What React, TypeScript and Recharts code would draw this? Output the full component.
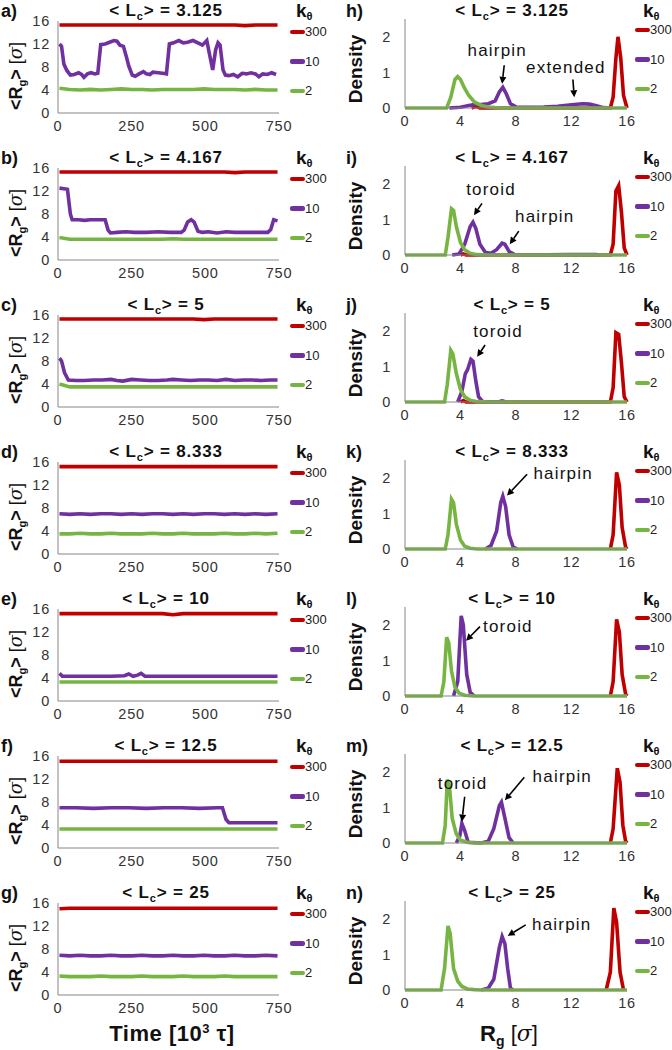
import React from 'react';
import { LineChart, Line, XAxis, YAxis, ReferenceLine, Legend } from 'recharts';

const FONT = '"Liberation Sans", Arial, sans-serif';
const RED = '#C00000';
const PURPLE = '#7030A0';
const GREEN = '#77B543';
const AXIS = '#868686';
const ROW = 147;

type Pair = [number, number];

const kTheta = ['300', '10', '2'];
const lcValues = ['3.125', '4.167', '5', '8.333', '10', '12.5', '25'];
const timeLetters = ['a)', 'b)', 'c)', 'd)', 'e)', 'f)', 'g)'];
const densLetters = ['h)', 'i)', 'j)', 'k)', 'l)', 'm)', 'n)'];
const timeTicks = [0, 250, 500, 750];
const rgTicks = [0, 4, 8, 12, 16];
const densTicks = [0, 1, 2];
const rgAxisTicks = [0, 4, 8, 12, 16];

// time samples used for the flat traces
const tGrid = [5, 40, 75, 110, 145, 180, 215, 250, 285, 320, 355, 390, 425, 460, 495, 530, 565, 600, 635, 670, 705, 745];

// ---- <Rg> vs time ----
const aRed = [15.3, 15.3, 15.3, 15.3, 15.3, 15.3, 15.3, 15.3, 15.3, 15.3, 15.3, 15.3, 15.3, 15.3, 15.3, 15.3, 15.3, 15.3, 15.2, 15.3, 15.3, 15.3];
const aGreen = [4.3, 4.1, 4.0, 4.1, 4.0, 4.1, 4.2, 4.1, 4.1, 4.0, 4.1, 4.1, 4.1, 4.1, 4.2, 4.1, 4.1, 4.1, 4.0, 4.1, 4.0, 4.0];
const aPurple: Pair[] = [[5, 12], [12, 11.6], [20, 8.5], [30, 7.4], [42, 6.6], [55, 6.7], [70, 7.0], [80, 6.7], [88, 6.2], [100, 6.8], [112, 7.0], [125, 6.8], [135, 6.9], [145, 11.9], [160, 12.0], [175, 12.3], [190, 12.6], [200, 12.5], [210, 11.8], [222, 11.6], [232, 9.8], [240, 8.2], [252, 6.6], [262, 6.4], [275, 6.8], [290, 7.2], [300, 6.8], [312, 6.7], [322, 7.1], [340, 7.0], [355, 6.9], [368, 6.8], [378, 12.0], [392, 12.2], [410, 12.6], [425, 12.2], [440, 12.3], [458, 12.6], [475, 12.2], [490, 11.8], [505, 12.6], [515, 10.0], [525, 7.5], [535, 11.0], [543, 12.2], [550, 11.8], [560, 7.5], [568, 6.6], [580, 6.5], [595, 6.7], [610, 6.3], [625, 6.9], [640, 6.8], [655, 7.0], [670, 6.8], [682, 6.3], [695, 6.8], [710, 6.7], [725, 7.0], [740, 6.7]];

const bRed = [15.3, 15.3, 15.3, 15.3, 15.3, 15.3, 15.3, 15.3, 15.3, 15.3, 15.3, 15.3, 15.3, 15.3, 15.3, 15.3, 15.3, 15.2, 15.3, 15.3, 15.3, 15.3];
const bGreen = [3.9, 3.6, 3.6, 3.6, 3.6, 3.6, 3.6, 3.6, 3.6, 3.6, 3.6, 3.7, 3.6, 3.6, 3.6, 3.6, 3.6, 3.6, 3.6, 3.6, 3.6, 3.6];
const bPurple: Pair[] = [[5, 12.5], [20, 12.4], [32, 12.3], [42, 8.0], [48, 7.0], [70, 7.0], [90, 6.9], [110, 7.0], [130, 7.0], [160, 7.0], [170, 5.2], [178, 4.7], [200, 4.8], [230, 4.9], [260, 4.8], [300, 4.8], [340, 4.9], [380, 4.8], [418, 4.8], [428, 5.2], [440, 6.6], [452, 7.0], [462, 6.6], [475, 5.0], [490, 4.8], [510, 4.9], [540, 4.7], [570, 4.9], [600, 4.8], [640, 4.8], [680, 4.8], [712, 4.8], [722, 5.3], [732, 7.0], [745, 6.8]];

const cRed = [15.3, 15.3, 15.3, 15.3, 15.3, 15.3, 15.3, 15.3, 15.3, 15.3, 15.3, 15.3, 15.3, 15.3, 15.2, 15.3, 15.3, 15.3, 15.3, 15.3, 15.3, 15.3];
const cGreen = [4.0, 3.5, 3.5, 3.5, 3.5, 3.5, 3.5, 3.5, 3.5, 3.5, 3.5, 3.5, 3.5, 3.5, 3.5, 3.5, 3.5, 3.5, 3.5, 3.5, 3.5, 3.5];
const cPurple: Pair[] = [[5, 8.5], [12, 8.0], [22, 6.0], [35, 4.7], [60, 4.6], [90, 4.6], [120, 4.7], [150, 4.7], [180, 4.8], [200, 4.6], [220, 4.5], [250, 4.8], [280, 4.7], [310, 4.6], [340, 4.6], [370, 4.7], [390, 4.8], [420, 4.7], [450, 4.6], [480, 4.7], [510, 4.7], [540, 4.6], [570, 4.8], [600, 4.6], [630, 4.7], [660, 4.7], [690, 4.6], [720, 4.7], [745, 4.7]];

const dRed = [15.2, 15.2, 15.2, 15.2, 15.2, 15.2, 15.2, 15.2, 15.2, 15.2, 15.2, 15.2, 15.2, 15.2, 15.2, 15.2, 15.2, 15.2, 15.2, 15.2, 15.2, 15.2];
const dPurple = [7.0, 6.9, 7.0, 6.9, 7.0, 7.0, 6.9, 7.0, 6.9, 7.0, 7.0, 6.9, 7.0, 6.9, 7.0, 7.0, 6.9, 7.0, 6.9, 7.0, 6.9, 7.0];
const dGreen = [3.5, 3.5, 3.6, 3.5, 3.5, 3.6, 3.5, 3.5, 3.5, 3.6, 3.5, 3.5, 3.6, 3.5, 3.5, 3.5, 3.6, 3.5, 3.5, 3.6, 3.5, 3.6];

const eRed = [15.2, 15.2, 15.2, 15.2, 15.2, 15.2, 15.2, 15.2, 15.2, 15.2, 15.2, 15.0, 15.2, 15.2, 15.2, 15.2, 15.2, 15.2, 15.2, 15.2, 15.2, 15.2];
const eGreen = [3.3, 3.3, 3.3, 3.3, 3.3, 3.3, 3.3, 3.3, 3.3, 3.3, 3.3, 3.3, 3.3, 3.3, 3.3, 3.3, 3.3, 3.3, 3.3, 3.3, 3.3, 3.3];
const ePurple: Pair[] = [[5, 4.8], [15, 4.3], [60, 4.3], [120, 4.3], [180, 4.3], [225, 4.4], [240, 4.7], [255, 4.3], [270, 4.5], [282, 4.8], [295, 4.3], [350, 4.3], [420, 4.3], [480, 4.3], [540, 4.3], [600, 4.3], [660, 4.3], [700, 4.3], [745, 4.3]];

const fRed = [15.1, 15.1, 15.1, 15.1, 15.1, 15.1, 15.1, 15.1, 15.1, 15.1, 15.1, 15.1, 15.1, 15.1, 15.1, 15.1, 15.1, 15.1, 15.1, 15.1, 15.1, 15.1];
const fGreen = [3.3, 3.3, 3.3, 3.3, 3.3, 3.3, 3.3, 3.3, 3.3, 3.3, 3.3, 3.3, 3.3, 3.3, 3.3, 3.3, 3.3, 3.3, 3.3, 3.3, 3.3, 3.3];
const fPurple: Pair[] = [[5, 7.0], [60, 7.0], [120, 6.9], [180, 7.0], [240, 7.0], [300, 6.9], [360, 7.0], [420, 7.0], [480, 6.9], [540, 7.0], [558, 7.0], [570, 5.0], [580, 4.4], [620, 4.4], [680, 4.4], [745, 4.4]];

const gRed = [15.0, 15.1, 15.1, 15.1, 15.1, 15.1, 15.1, 15.1, 15.1, 15.1, 15.1, 15.1, 15.1, 15.1, 15.1, 15.1, 15.1, 15.1, 15.1, 15.1, 15.1, 15.1];
const gPurple = [6.9, 6.8, 6.9, 6.8, 6.8, 6.9, 6.8, 6.8, 6.9, 6.8, 6.8, 6.9, 6.8, 6.8, 6.9, 6.8, 6.8, 6.9, 6.8, 6.8, 6.9, 6.8];
const gGreen = [3.3, 3.2, 3.2, 3.2, 3.3, 3.2, 3.2, 3.2, 3.3, 3.2, 3.2, 3.2, 3.3, 3.2, 3.2, 3.2, 3.3, 3.2, 3.2, 3.2, 3.2, 3.2];

// ---- density of Rg ----
const hRed: Pair[] = [[4.8, 0], [5.1, 0.05], [5.4, 0], [14.8, 0], [15.0, 0.3], [15.2, 1.4], [15.35, 2.0], [15.55, 1.4], [15.75, 0.35], [16, 0]];
const hPurple: Pair[] = [[3.2, 0], [4, 0.02], [4.6, 0.07], [5.0, 0.1], [5.5, 0.1], [6.0, 0.12], [6.5, 0.2], [6.8, 0.45], [7.05, 0.58], [7.3, 0.4], [7.6, 0.12], [8.0, 0.03], [9, 0.02], [10, 0.03], [11, 0.05], [12, 0.09], [12.8, 0.12], [13.3, 0.11], [13.8, 0.06], [14.3, 0.01], [14.8, 0]];
const hGreen: Pair[] = [[0, 0], [3.0, 0], [3.3, 0.3], [3.6, 0.8], [3.8, 0.88], [4.0, 0.8], [4.3, 0.55], [4.6, 0.35], [5.0, 0.17], [5.5, 0.07], [6.0, 0.03], [6.5, 0.01], [7, 0], [16, 0]];

const iRed: Pair[] = [[4.0, 0], [4.2, 0.03], [4.4, 0], [14.8, 0], [15.0, 0.3], [15.2, 1.8], [15.4, 1.95], [15.6, 1.2], [15.8, 0.2], [16, 0]];
const iPurple: Pair[] = [[3.4, 0], [3.9, 0.03], [4.3, 0.3], [4.7, 0.8], [4.9, 0.92], [5.1, 0.75], [5.4, 0.3], [5.8, 0.07], [6.2, 0.05], [6.6, 0.15], [7.0, 0.33], [7.2, 0.3], [7.5, 0.1], [7.9, 0.01], [8.5, 0], [11.8, 0.01], [13.8, 0.01], [14, 0]];
const iGreen: Pair[] = [[0, 0], [2.9, 0], [3.1, 0.5], [3.35, 1.3], [3.5, 1.25], [3.7, 0.8], [4.0, 0.35], [4.3, 0.15], [4.7, 0.05], [5.2, 0.01], [6, 0], [16, 0]];

const jRed: Pair[] = [[4.0, 0], [4.2, 0.04], [4.4, 0], [14.8, 0], [15.0, 0.4], [15.2, 1.95], [15.4, 1.9], [15.6, 1.1], [15.8, 0.15], [16, 0]];
const jPurple: Pair[] = [[3.8, 0], [4.1, 0.3], [4.35, 0.8], [4.5, 0.9], [4.75, 1.2], [4.9, 1.15], [5.1, 0.6], [5.3, 0.15], [5.6, 0.01], [6.7, 0], [7.0, 0.03], [7.3, 0]];
const jGreen: Pair[] = [[0, 0], [2.85, 0], [3.05, 0.5], [3.3, 1.45], [3.45, 1.35], [3.7, 0.8], [4.0, 0.35], [4.3, 0.15], [4.7, 0.05], [5.2, 0.01], [6, 0], [16, 0]];

const kRed: Pair[] = [[14.8, 0], [15.0, 0.4], [15.25, 2.15], [15.45, 1.8], [15.65, 0.6], [15.9, 0.05], [16, 0]];
const kPurple: Pair[] = [[5.8, 0], [6.2, 0.1], [6.6, 0.5], [6.9, 1.3], [7.05, 1.48], [7.25, 1.2], [7.5, 0.4], [7.8, 0.05], [8.1, 0]];
const kGreen: Pair[] = [[0, 0], [2.9, 0], [3.1, 0.4], [3.35, 1.4], [3.5, 1.3], [3.7, 0.7], [4.0, 0.25], [4.3, 0.08], [4.7, 0.02], [5.2, 0], [16, 0]];

const lRed: Pair[] = [[14.8, 0], [15.0, 0.4], [15.25, 2.15], [15.45, 1.8], [15.65, 0.6], [15.9, 0.05], [16, 0]];
const lPurple: Pair[] = [[3.5, 0], [3.8, 0.4], [4.05, 2.25], [4.2, 2.0], [4.45, 0.6], [4.7, 0.1], [5.0, 0]];
const lGreen: Pair[] = [[0, 0], [2.6, 0], [2.8, 0.4], [3.0, 1.65], [3.15, 1.5], [3.35, 0.7], [3.6, 0.25], [3.9, 0.08], [4.3, 0.02], [5, 0], [16, 0]];

const mRed: Pair[] = [[14.8, 0], [15.0, 0.4], [15.3, 2.1], [15.5, 1.7], [15.7, 0.5], [15.9, 0.05], [16, 0]];
const mPurple: Pair[] = [[3.7, 0], [3.95, 0.2], [4.1, 0.55], [4.3, 0.35], [4.55, 0.02], [5.5, 0], [6.0, 0.05], [6.4, 0.4], [6.8, 1.05], [6.95, 1.15], [7.2, 0.7], [7.5, 0.15], [7.8, 0]];
const mGreen: Pair[] = [[0, 0], [2.7, 0], [2.9, 0.5], [3.05, 1.78], [3.2, 1.6], [3.4, 0.7], [3.7, 0.25], [4.0, 0.08], [4.5, 0.02], [5, 0], [16, 0]];

const nRed: Pair[] = [[14.5, 0], [14.8, 0.5], [15.05, 2.3], [15.25, 1.9], [15.5, 0.5], [15.75, 0]];
const nPurple: Pair[] = [[5.5, 0], [6.0, 0.05], [6.4, 0.3], [6.8, 1.2], [7.0, 1.5], [7.2, 1.3], [7.4, 0.6], [7.6, 0.05], [7.8, 0]];
const nGreen: Pair[] = [[0, 0], [2.6, 0], [2.85, 0.6], [3.1, 1.8], [3.25, 1.6], [3.5, 0.6], [3.8, 0.25], [4.1, 0.1], [4.5, 0.03], [5, 0.01], [5.5, 0], [16, 0]];

// arrow annotations: from (x1,y1) to (x2,y2) in data units, text offset in px from the tail
type Note = { text: string; x1: number; y1: number; x2: number; y2: number; dx: number; dy: number };
const hNotes: Note[] = [
  { text: 'hairpin', x1: 7.15, y1: 1.2, x2: 7.0, y2: 0.68, dx: -7, dy: -9 },
  { text: 'extended', x1: 12.1, y1: 0.8, x2: 12.2, y2: 0.3, dx: -7, dy: -7 },
];
const iNotes: Note[] = [
  { text: 'toroid', x1: 5.55, y1: 1.45, x2: 4.97, y2: 1.12, dx: 9, dy: -8 },
  { text: 'hairpin', x1: 8.2, y1: 0.67, x2: 7.55, y2: 0.3, dx: 26, dy: -9 },
];
const jNotes: Note[] = [{ text: 'toroid', x1: 5.77, y1: 1.6, x2: 5.2, y2: 1.27, dx: 13, dy: -8 }];
const kNotes: Note[] = [{ text: 'hairpin', x1: 8.8, y1: 2.1, x2: 7.35, y2: 1.5, dx: 36, dy: 5 }];
const lNotes: Note[] = [{ text: 'toroid', x1: 5.4, y1: 1.95, x2: 4.4, y2: 1.55, dx: 28, dy: 5 }];
const mNotes: Note[] = [
  { text: 'toroid', x1: 4.3, y1: 1.3, x2: 4.1, y2: 0.6, dx: -2, dy: -8 },
  { text: 'hairpin', x1: 8.6, y1: 1.85, x2: 7.2, y2: 1.2, dx: 38, dy: 5 },
];
const nNotes: Note[] = [{ text: 'hairpin', x1: 8.7, y1: 1.83, x2: 7.4, y2: 1.52, dx: 36, dy: 5 }];

const gridRows = (vals: number[]) => vals.map((y, i) => ({ x: tGrid[i], y }));
const pairRows = (pairs: Pair[]) => pairs.map(([x, y]) => ({ x, y }));

const timePanels = [
  { red: gridRows(aRed), purple: pairRows(aPurple), green: gridRows(aGreen) },
  { red: gridRows(bRed), purple: pairRows(bPurple), green: gridRows(bGreen) },
  { red: gridRows(cRed), purple: pairRows(cPurple), green: gridRows(cGreen) },
  { red: gridRows(dRed), purple: gridRows(dPurple), green: gridRows(dGreen) },
  { red: gridRows(eRed), purple: pairRows(ePurple), green: gridRows(eGreen) },
  { red: gridRows(fRed), purple: pairRows(fPurple), green: gridRows(fGreen) },
  { red: gridRows(gRed), purple: gridRows(gPurple), green: gridRows(gGreen) },
];

const densPanels = [
  { red: pairRows(hRed), purple: pairRows(hPurple), green: pairRows(hGreen), notes: hNotes },
  { red: pairRows(iRed), purple: pairRows(iPurple), green: pairRows(iGreen), notes: iNotes },
  { red: pairRows(jRed), purple: pairRows(jPurple), green: pairRows(jGreen), notes: jNotes },
  { red: pairRows(kRed), purple: pairRows(kPurple), green: pairRows(kGreen), notes: kNotes },
  { red: pairRows(lRed), purple: pairRows(lPurple), green: pairRows(lGreen), notes: lNotes },
  { red: pairRows(mRed), purple: pairRows(mPurple), green: pairRows(mGreen), notes: mNotes },
  { red: pairRows(nRed), purple: pairRows(nPurple), green: pairRows(nGreen), notes: nNotes },
];

const tickStyle = { fontSize: 14.5, fill: '#333', fontFamily: FONT, letterSpacing: 0.8 };

const KLegend = ({ payload }: any) => {
  const items = [...(payload || [])].sort((a: any, b: any) => kTheta.indexOf(a.value) - kTheta.indexOf(b.value));
  return (
    <div style={{ fontFamily: FONT, fontSize: 13, color: '#222' }}>
      {items.map((p: any) => (
        <div key={p.value} style={{ height: 29.5, display: 'flex', alignItems: 'center' }}>
          <span style={{ display: 'inline-block', width: 15, height: 4.5, background: p.color, borderRadius: 2 }} />
          <span>{p.value}</span>
        </div>
      ))}
    </div>
  );
};

const arrowShape = (note: Note) => (props: any) => {
  const { x1, y1, x2, y2 } = props;
  const ang = Math.atan2(y2 - y1, x2 - x1);
  const len = 7;
  const half = 3.5;
  const hx = x2 - len * Math.cos(ang);
  const hy = y2 - len * Math.sin(ang);
  const s = Math.sin(ang);
  const c = Math.cos(ang);
  const head = `${x2},${y2} ${hx + half * s},${hy - half * c} ${hx - half * s},${hy + half * c}`;
  return (
    <g>
      <line x1={x1} y1={y1} x2={hx} y2={hy} stroke="#000" strokeWidth={1.6} />
      <polygon points={head} fill="#000" />
      <text x={x1 + note.dx} y={y1 + note.dy} textAnchor="middle" fontSize={17} fontFamily={FONT} letterSpacing={1.2} fill="#111">
        {note.text}
      </text>
    </g>
  );
};

const series = (d: { red: any[]; purple: any[]; green: any[] }) => [
  <Line key="r" data={d.red} dataKey="y" name={kTheta[0]} stroke={RED} strokeWidth={3.6} dot={false} isAnimationActive={false} />,
  <Line key="p" data={d.purple} dataKey="y" name={kTheta[1]} stroke={PURPLE} strokeWidth={3.6} dot={false} isAnimationActive={false} />,
  <Line key="g" data={d.green} dataKey="y" name={kTheta[2]} stroke={GREEN} strokeWidth={3.6} dot={false} isAnimationActive={false} />,
];

function TimePanel({ row }: { row: number }) {
  const d = timePanels[row];
  return (
    <div style={{ position: 'absolute', left: 0, top: row * ROW }}>
      <LineChart width={336} height={ROW} margin={{ top: 21, right: 57, bottom: 4, left: 18 }}>
        <XAxis type="number" dataKey="x" domain={[0, 750]} ticks={timeTicks} height={30} tickLine={false} axisLine={{ stroke: AXIS }} tick={tickStyle} />
        <YAxis type="number" domain={[0, 16]} ticks={rgTicks} width={40} tickLine={false} axisLine={{ stroke: AXIS }} tick={tickStyle} />
        {series(d)}
        <Legend content={KLegend} layout="vertical" align="center" verticalAlign="middle" wrapperStyle={{ left: 290, top: 17, width: 46 }} />
      </LineChart>
    </div>
  );
}

function DensityPanel({ row }: { row: number }) {
  const d = densPanels[row];
  return (
    <div style={{ position: 'absolute', left: 336, top: row * ROW }}>
      <LineChart width={336} height={ROW} margin={{ top: 19, right: 45, bottom: 9, left: 29 }}>
        <XAxis type="number" dataKey="x" domain={[0, 16]} ticks={rgAxisTicks} height={30} tickLine={false} axisLine={{ stroke: AXIS }} tick={tickStyle} />
        <YAxis type="number" domain={[0, 2.5]} ticks={densTicks} width={40} tickLine={false} tickMargin={8} axisLine={{ stroke: AXIS }} tick={tickStyle} />
        {series(d)}
        {d.notes.map((n) => (
          <ReferenceLine key={n.text} segment={[{ x: n.x1, y: n.y1 }, { x: n.x2, y: n.y2 }]} ifOverflow="visible" shape={arrowShape(n)} />
        ))}
        <Legend content={KLegend} layout="vertical" align="center" verticalAlign="middle" wrapperStyle={{ left: 299, top: 15, width: 40 }} />
      </LineChart>
    </div>
  );
}

function Overlay() {
  const rows = [0, 1, 2, 3, 4, 5, 6];
  return (
    <svg width={672} height={1050} style={{ position: 'absolute', left: 0, top: 0, pointerEvents: 'none' }} fontFamily={FONT}>
      {rows.map((r) => {
        const y0 = r * ROW;
        return (
          <g key={r}>
            <text x={1} y={y0 + 17} fontSize={18} fontWeight="bold" fill="#111">{timeLetters[r]}</text>
            <text x={166} y={y0 + 16} fontSize={17} fontWeight="bold" textAnchor="middle" letterSpacing={0.8} fill="#111">
              {'< L'}<tspan fontSize={11} dy={4}>c</tspan><tspan dy={-4}>{'> = ' + lcValues[r]}</tspan>
            </text>
            <text x={296} y={y0 + 17} fontSize={19} fontWeight="bold" fill="#111">
              k<tspan fontSize={11} dy={3}>θ</tspan>
            </text>
            <text transform={`translate(22, ${y0 + 76}) rotate(-90)`} fontSize={18} textAnchor="middle" fill="#111">
              <tspan fontWeight="bold">{'<R'}</tspan><tspan fontWeight="bold" fontSize={11} dy={4}>g</tspan><tspan fontWeight="bold" dy={-4}>{'>'}</tspan><tspan>{' ['}</tspan><tspan fontStyle="italic" fontFamily="'DejaVu Serif', serif">σ</tspan><tspan>]</tspan>
            </text>

            <text x={346} y={y0 + 17} fontSize={18} fontWeight="bold" fill="#111">{densLetters[r]}</text>
            <text x={512} y={y0 + 16} fontSize={17} fontWeight="bold" textAnchor="middle" letterSpacing={0.8} fill="#111">
              {'< L'}<tspan fontSize={11} dy={4}>c</tspan><tspan dy={-4}>{'> = ' + lcValues[r]}</tspan>
            </text>
            <text x={643} y={y0 + 17} fontSize={19} fontWeight="bold" fill="#111">
              k<tspan fontSize={11} dy={3}>θ</tspan>
            </text>
            <text transform={`translate(362, ${y0 + 69}) rotate(-90)`} fontSize={19} fontWeight="bold" textAnchor="middle" fill="#111">
              Density
            </text>
          </g>
        );
      })}
      <text x={172} y={1041} fontSize={22} fontWeight="bold" textAnchor="middle" fill="#111" letterSpacing={0.5}>
        {'Time [10'}<tspan fontSize={13} dy={-8}>3</tspan><tspan dy={8}>{' τ]'}</tspan>
      </text>
      <text x={509} y={1041} fontSize={22} textAnchor="middle" fill="#111">
        <tspan fontWeight="bold">R</tspan><tspan fontWeight="bold" fontSize={14} dy={5}>g</tspan><tspan dy={-5}>{' ['}</tspan><tspan fontStyle="italic" fontFamily="'DejaVu Serif', serif">σ</tspan><tspan>]</tspan>
      </text>
    </svg>
  );
}

export default function App() {
  const rows = [0, 1, 2, 3, 4, 5, 6];
  return (
    <div style={{ position: 'absolute', left: 0, top: 0, width: 672, height: 1050, background: '#fff', overflow: 'hidden' }}>
      {rows.map((r) => (
        <TimePanel key={`t${r}`} row={r} />
      ))}
      {rows.map((r) => (
        <DensityPanel key={`d${r}`} row={r} />
      ))}
      <Overlay />
    </div>
  );
}
